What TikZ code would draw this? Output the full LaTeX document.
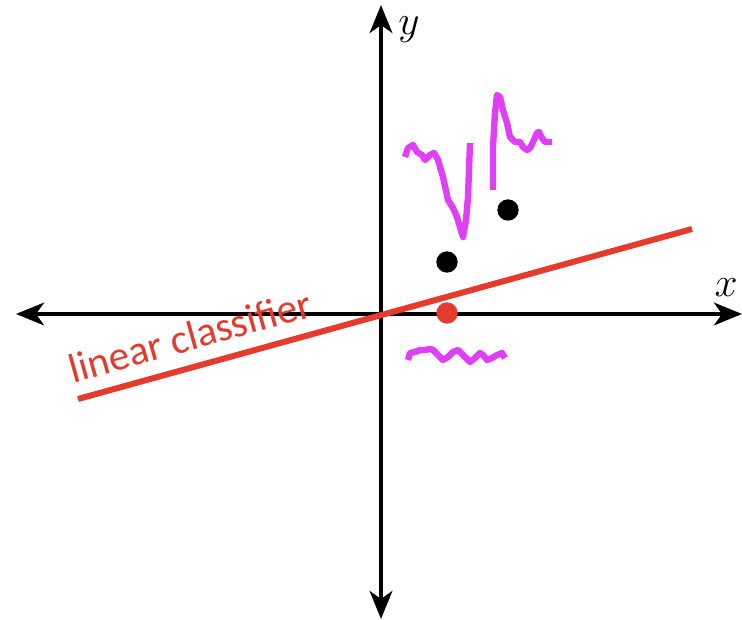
\RequirePackage{fix-cm}
\documentclass[tikz,border=0pt]{standalone}
\usepackage{fontspec}
\newfontfamily\labelfont{Carlito}
\usetikzlibrary{arrows.meta,calc}
\definecolor{clsred}{HTML}{E53A2C}
\definecolor{sigpink}{HTML}{E040F5}
\tikzset{
axis/.style={line width=3pt,{Stealth[length=21pt,width=17pt,inset=6pt]}-{Stealth[length=21pt,width=17pt,inset=6pt]}},
dotblack/.style={circle,fill=black,inner sep=0pt,minimum size=16pt},
dotred/.style={circle,fill=clsred,inner sep=0pt,minimum size=16pt},
signal/.style={sigpink,line width=4.8pt,line join=round},
lbl/.style={font=\fontsize{31}{34}\selectfont},
}
\begin{document}
\begin{tikzpicture}[x=0.75pt,y=-0.75pt]
\useasboundingbox (0,0) rectangle (742,620);
% axes
\coordinate (xl) at (16,314);
\coordinate (xr) at (742,314);
\coordinate (yb) at (381,619);
\coordinate (yt) at (381,5);
\draw[axis] (xl) -- (xr);
\draw[axis] (yb) -- (yt);
\node[lbl] (ylab) at (409,30) {$y$};
\node[lbl] (xlab) at (726,288) {$x$};
% classifier
\coordinate (c1) at (78,399);
\coordinate (c2) at (692,229);
\draw[clsred,line width=4.5pt] (c1) -- (c2);
\node[clsred,lbl,rotate=15.5] (clab) at (190,336) {\labelfont linear classifier};
% points
\node[dotblack] (p1) at (447,262) {};
\node[dotblack] (p2) at (508,210) {};
\node[dotred] (p3) at (447,313) {};
% signals
\draw[signal] (405,157) -- (408,148) -- (413,145) -- (417,152) -- (422,155) -- (425,160) -- (430,155) -- (434,153) -- (438,160) -- (443,177) -- (448,200) -- (453,208) -- (457,217) -- (460,227) -- (463,237) -- (466,220) -- (468,197) -- (470,143);
\draw[signal] (493,190) -- (493,147) -- (495,113) -- (497,95) -- (500,97) -- (503,110) -- (507,123) -- (510,137) -- (515,142) -- (520,142) -- (523,147) -- (527,150) -- (530,148) -- (533,142) -- (537,133) -- (539,132) -- (542,138) -- (545,142) -- (552,142);
\draw[signal] (408,360) -- (410,353) -- (415,352) -- (420,350) -- (425,350) -- (430,349) -- (433,350) -- (438,355) -- (443,360) -- (448,357) -- (453,352) -- (458,350) -- (463,355) -- (470,362) -- (475,358) -- (480,353) -- (483,355) -- (487,360) -- (492,358) -- (497,355) -- (502,353) -- (505,358);
\end{tikzpicture}
\end{document}
